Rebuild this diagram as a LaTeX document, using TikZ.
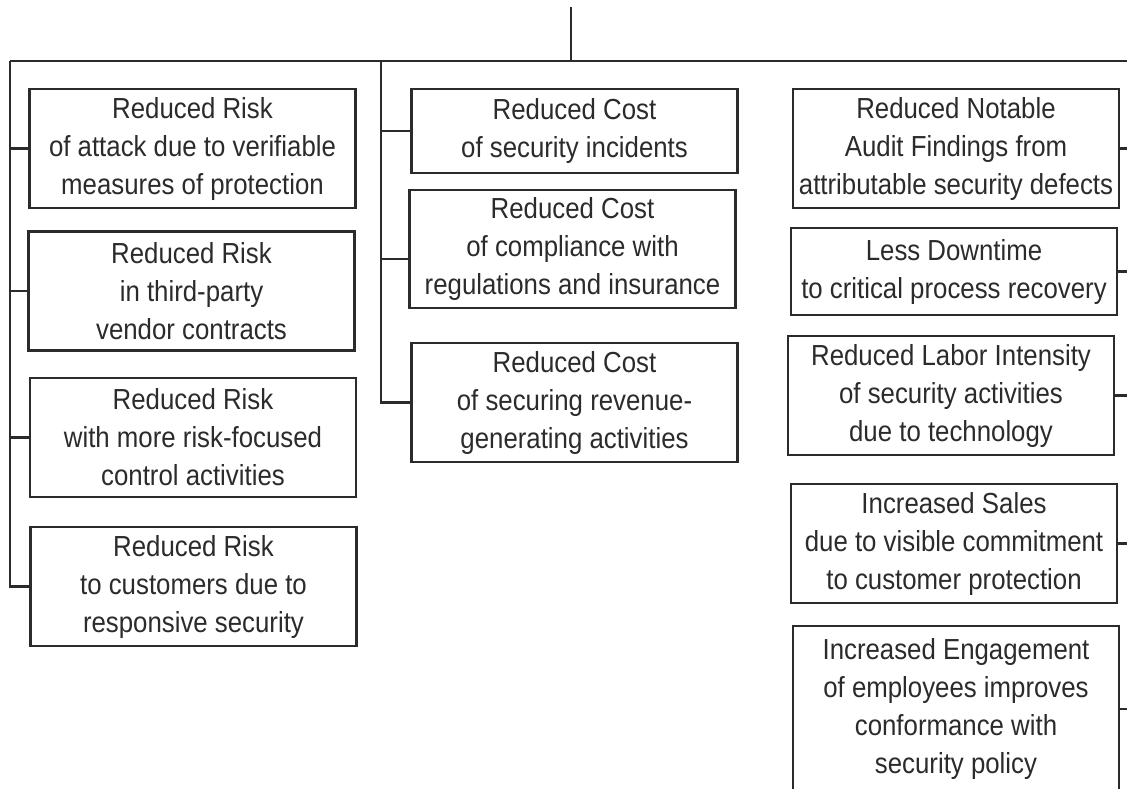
\documentclass[tikz,border=0pt]{standalone}
\usepackage{fontspec}
\setmainfont[FakeStretch=0.89]{Liberation Sans}
\usepackage{tikz}

\definecolor{ink}{HTML}{2B2B2B}
\tikzset{
  benefit/.style={draw=ink, line width=1.2pt, text=ink, align=center, inner sep=0pt,
    minimum width=163pt, minimum height=59.5pt,
    font=\fontsize{14.5pt}{19pt}\selectfont},
  link/.style={draw=ink, line width=1.1pt}
}

\begin{document}
\begin{tikzpicture}[x=0.5pt,y=-0.5pt]
    \useasboundingbox (0,0) rectangle (1127,788);

    % Trunk and bus
    \coordinate (trunk) at (571,7);
    \coordinate (bus) at (571,61);
    \coordinate (lbus) at (10,61);
    \coordinate (mbus) at (381,61);
    \coordinate (rbus) at (1131,61);

    % Risk column
    \node[benefit] (L1) at (192.5,148.5) {Reduced Risk\\of attack due to verifiable\\measures of protection};
    \node[benefit] (L2) at (191.5,291) {Reduced Risk\\in third-party\\vendor contracts};
    \node[benefit] (L3) at (193,437.5) {Reduced Risk\\with more risk-focused\\control activities};
    \node[benefit] (L4) at (193.5,586.5) {Reduced Risk\\to customers due to\\responsive security};

    % Cost column
    \node[benefit, minimum height=42pt] (C1) at (574.5,131) {Reduced Cost\\of security incidents};
    \node[benefit, minimum height=59pt] (C2) at (572.5,249) {Reduced Cost\\of compliance with\\regulations and insurance};
    \node[benefit] (C3) at (574.5,402.5) {Reduced Cost\\of securing revenue-\\generating activities};

    % Other benefits
    \node[benefit] (R1) at (956,148.5) {Reduced Notable\\Audit Findings from\\attributable security defects};
    \node[benefit, minimum height=43.5pt] (R2) at (954,271.5) {Less Downtime\\to critical process recovery};
    \node[benefit] (R3) at (951,395.5) {Reduced Labor Intensity\\of security activities\\due to technology};
    \node[benefit] (R4) at (954,543.5) {Increased Sales\\due to visible commitment\\to customer protection};
    \node[benefit, minimum height=83pt] (R5) at (956,709) {Increased Engagement\\of employees improves\\conformance with\\security policy};

    % Connectors
    \draw[link] (trunk) -- (bus);
    \draw[link] (lbus) -- (rbus);
    \draw[link] (lbus) |- (L4.west);
    \foreach \b in {L1,L2,L3}
      \draw[link] (\b.west) -- (\b.west -| lbus);
    \draw[link] (mbus) |- (C3.west);
    \draw[link] (C1.west) -- (C1.west -| mbus);
    \draw[link] ([yshift=-5pt]C2.west) -- ([yshift=-5pt]C2.west -| mbus);
    \draw[link] (rbus) |- (R5.east);
    \foreach \b in {R1,R2,R3,R4}
      \draw[link] (\b.east) -- (\b.east -| rbus);
\end{tikzpicture}
\end{document}
